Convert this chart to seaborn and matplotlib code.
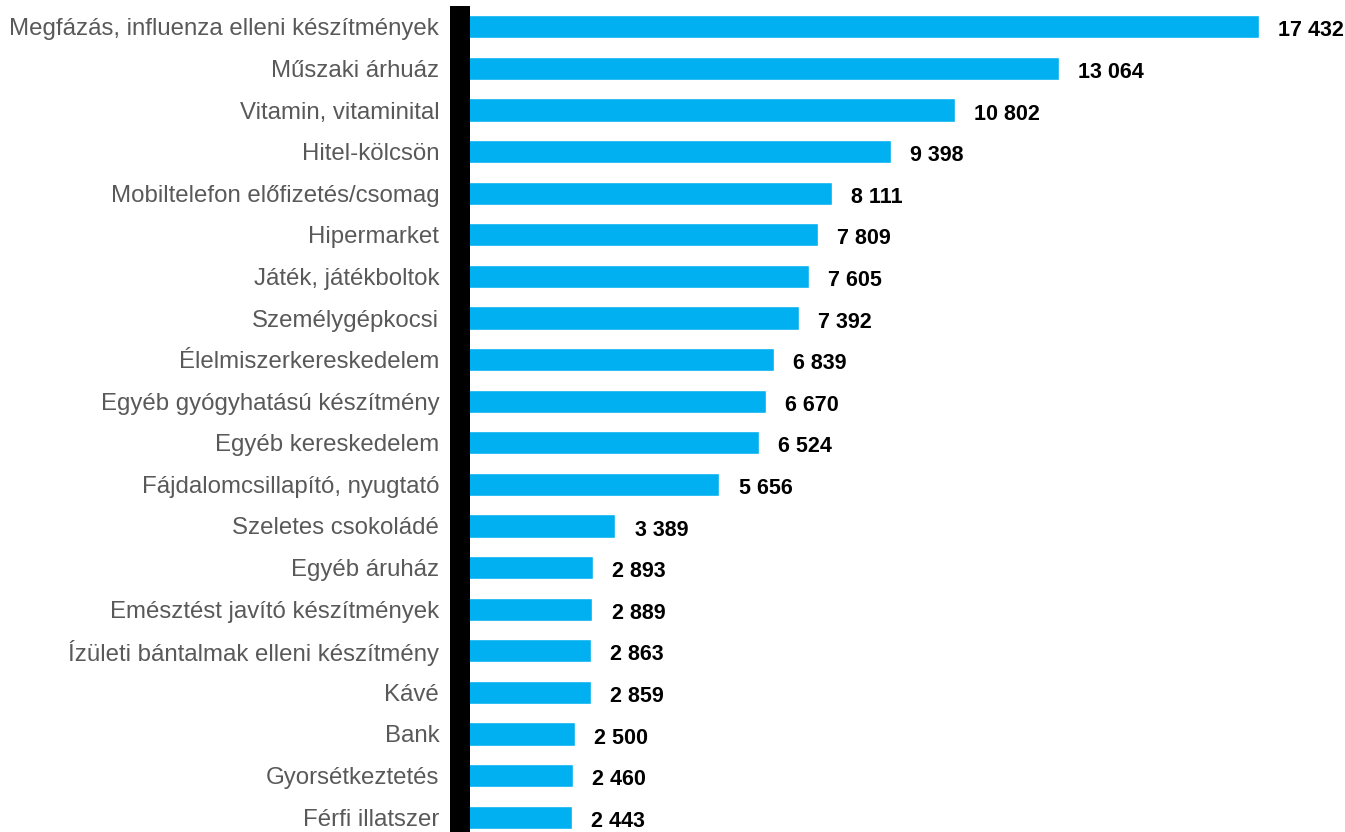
import seaborn as sns
import matplotlib.pyplot as plt
import pandas as pd

categories = [
    'Megfázás, influenza elleni készítmények',
    'Műszaki árhuáz',
    'Vitamin, vitaminital',
    'Hitel-kölcsön',
    'Mobiltelefon előfizetés/csomag',
    'Hipermarket',
    'Játék, játékboltok',
    'Személygépkocsi',
    'Élelmiszerkereskedelem',
    'Egyéb gyógyhatású készítmény',
    'Egyéb kereskedelem',
    'Fájdalomcsillapító, nyugtató',
    'Szeletes csokoládé',
    'Egyéb áruház',
    'Emésztést javító készítmények',
    'Ízületi bántalmak elleni készítmény',
    'Kávé',
    'Bank',
    'Gyorsétkeztetés',
    'Férfi illatszer',
]
values = [17432, 13064, 10802, 9398, 8111, 7809, 7605, 7392, 6839, 6670,
          6524, 5656, 3389, 2893, 2889, 2863, 2859, 2500, 2460, 2443]

df = pd.DataFrame({'category': categories, 'value': values})

sns.set_style('white')
plt.rcParams['font.family'] = ['Liberation Sans', 'DejaVu Sans']

fig = plt.figure(figsize=(13.45, 8.32), dpi=100)
ax = fig.add_axes([460 / 1345, -6 / 832, 871 / 1345, 1.0])

sns.barplot(data=df, x='value', y='category', color='#00B0F0',
            saturation=1, width=0.56, ax=ax)

ax.set_xlim(0, 19000)
ax.set_ylim(19.5, -0.5)

# value labels at the end of each bar
for i, v in enumerate(values):
    label = f'{v:,}'.replace(',', ' ')
    ax.text(v + 420, i + 0.04, label, va='center_baseline', ha='left',
            fontsize=15.5, fontweight='bold', color='black')

for side in ['top', 'right', 'bottom']:
    ax.spines[side].set_visible(False)
ax.spines['left'].set_color('black')
ax.spines['left'].set_linewidth(14.4)
ax.spines['left'].set_capstyle('butt')

ax.set_xticks([])
ax.set_xlabel('')
ax.set_ylabel('')
ax.tick_params(axis='y', length=0, pad=15, labelsize=17.3, labelcolor='#595959')

fig.savefig('out.png', dpi=100)
